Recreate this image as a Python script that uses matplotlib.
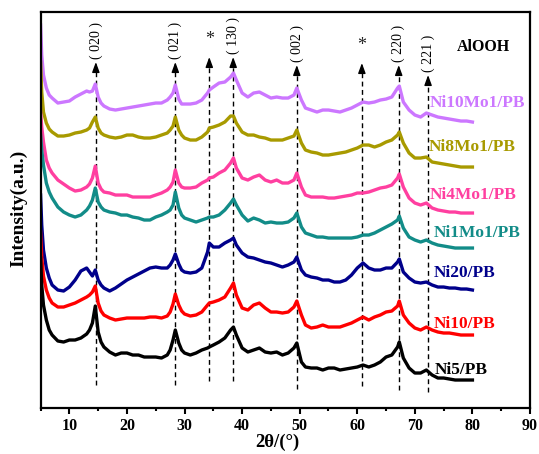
import numpy as np
import matplotlib.pyplot as plt
from matplotlib.ticker import MultipleLocator

plt.rcParams["font.family"] = ["Liberation Serif", "DejaVu Serif"]
plt.rcParams["font.weight"] = "bold"

# shared 2-theta grid (deg)
two_theta = [
    5, 5.2, 5.5, 6, 6.5, 7,
    8, 9, 10, 11, 12, 13, 13.5, 14, 14.5, 15, 15.5, 16,
    17, 18, 19, 20, 21, 22, 23, 24, 25, 26, 27, 27.5, 28, 28.4, 29, 29.5, 30,
    31, 32, 33, 34, 34.3, 35, 36, 37, 38, 38.5, 39, 40,
    41, 42, 43, 44, 45, 46, 47, 48, 49, 49.5, 50.3,
    51, 52, 53, 54, 55, 56, 57, 58, 59, 60,
    61, 62, 63, 64, 65, 66, 67, 67.3, 68, 69, 70,
    71, 72, 73, 74, 75, 76, 77, 78, 79, 80,
]

# stacked intensities (a.u.)
ni10mo1 = [
    383, 353, 333, 320, 313, 310,
    305, 306, 307, 311, 314, 317, 316, 317, 324, 311, 305, 302,
    299, 298, 299, 300, 301, 302, 303, 304, 305, 305, 308, 311, 315, 323, 309, 304, 304,
    304, 305, 308, 315, 318, 321, 325, 326, 331, 335, 328, 315,
    311, 315, 316, 313, 310, 311, 310, 310, 313, 320, 308,
    300, 298, 296, 298, 298, 297, 296, 298, 300, 303,
    306, 305, 306, 308, 309, 311, 320, 322, 306, 298, 293,
    291, 295, 293, 291, 290, 289, 288, 287, 287, 286,
]
ni8mo1 = [
    346, 316, 296, 285, 279, 276,
    272, 272, 273, 275, 276, 278, 280, 286, 291, 280, 275, 273,
    271, 270, 271, 273, 273, 271, 270, 270, 271, 273, 275, 278, 282, 291, 278, 273, 270,
    268, 268, 271, 276, 280, 281, 283, 286, 292, 292, 285, 276,
    273, 273, 271, 270, 268, 268, 268, 270, 272, 278, 265,
    258, 256, 255, 253, 253, 254, 255, 256, 258, 260,
    263, 263, 261, 263, 266, 268, 273, 276, 265, 255, 250,
    250, 251, 246, 245, 244, 243, 242, 241, 241, 241,
]
ni4mo1 = [
    296, 281, 266, 248, 240, 235,
    228, 224, 220, 217, 218, 221, 224, 230, 242, 225, 219, 216,
    215, 213, 213, 213, 211, 211, 211, 211, 213, 215, 218, 221, 226, 238, 225, 221, 220,
    220, 221, 225, 228, 230, 231, 235, 238, 245, 250, 240, 230,
    228, 231, 233, 228, 226, 228, 225, 225, 228, 235, 221,
    213, 211, 211, 211, 210, 210, 211, 212, 213, 215,
    215, 216, 218, 220, 221, 223, 230, 234, 221, 210, 205,
    203, 205, 200, 198, 197, 196, 196, 195, 195, 195,
]
ni1mo1 = [
    273, 258, 243, 225, 216, 210,
    201, 196, 193, 191, 193, 198, 202, 208, 220, 206, 201, 198,
    196, 195, 193, 193, 191, 190, 188, 188, 191, 193, 196, 198, 203, 216, 200, 193, 190,
    188, 186, 188, 190, 191, 191, 193, 198, 205, 209, 203, 193,
    187, 190, 188, 185, 186, 185, 185, 186, 190, 195, 181,
    175, 173, 171, 171, 170, 170, 170, 170, 170, 171,
    173, 173, 175, 178, 181, 184, 188, 192, 180, 171, 168,
    166, 168, 165, 163, 162, 161, 160, 160, 160, 160,
]
ni20 = [
    213, 183, 158, 140, 130, 123,
    118, 117, 121, 128, 137, 140, 136, 132, 138, 128, 123, 120,
    117, 120, 124, 128, 131, 134, 137, 140, 141, 140, 140, 143, 148, 154, 144, 138, 136,
    135, 136, 140, 156, 165, 161, 161, 165, 168, 170, 163, 155,
    151, 150, 148, 146, 145, 143, 141, 143, 146, 151, 138,
    133, 131, 130, 128, 128, 126, 126, 128, 133, 140,
    145, 140, 138, 138, 140, 140, 146, 149, 136, 130, 126,
    125, 126, 123, 121, 121, 120, 120, 119, 119, 118,
]
ni10 = [
    176, 151, 132, 118, 110, 105,
    101, 101, 103, 105, 108, 111, 113, 116, 122, 105, 97, 93,
    90, 88, 89, 90, 90, 90, 90, 91, 91, 90, 92, 96, 104, 114, 103, 97, 94,
    92, 93, 96, 103, 105, 106, 108, 111, 120, 125, 113, 100,
    98, 103, 105, 100, 96, 96, 95, 96, 101, 107, 93,
    83, 80, 81, 83, 81, 81, 81, 83, 85, 88,
    91, 88, 91, 93, 96, 97, 102, 107, 93, 85, 80,
    78, 81, 78, 76, 75, 75, 74, 73, 73, 73,
]
ni5 = [
    150, 123, 103, 88, 78, 73,
    67, 66, 68, 68, 70, 74, 78, 85, 102, 76, 66, 61,
    56, 53, 55, 55, 53, 53, 51, 51, 51, 50, 53, 58, 68, 78, 65, 58, 55,
    53, 55, 58, 60, 61, 63, 66, 70, 78, 81, 73, 60,
    56, 58, 60, 56, 55, 56, 53, 55, 60, 65, 46,
    41, 40, 40, 38, 40, 40, 38, 39, 40, 41,
    43, 41, 43, 46, 51, 53, 61, 66, 50, 40, 35,
    35, 38, 33, 30, 30, 29, 28, 28, 28, 28,
]

series_names = ["Ni10Mo1/PB", "Ni8Mo1/PB", "Ni4Mo1/PB", "Ni1Mo1/PB",
                "Ni20/PB", "Ni10/PB", "Ni5/PB"]
series_data = [ni10mo1, ni8mo1, ni4mo1, ni1mo1, ni20, ni10, ni5]
colors = ["#CC77FF", "#A89A00", "#FF3FA0", "#128C88", "#00008B", "#FF0000", "#000000"]

# AlOOH reflections and unassigned peaks
peak_pos = [14.6, 28.4, 34.3, 38.45, 49.5, 60.8, 67.2, 72.3]
peak_labels = ["( 020 )", "( 021 )", "*", "( 130 )", "( 002 )", "*", "( 220 )", "( 221 )"]

for y in series_data:
    assert len(y) == len(two_theta)

fig = plt.figure(figsize=(5.39, 4.54), dpi=100)
ax = fig.add_axes([0.0753, 0.1013, 0.9080, 0.8722])

# dashed guide lines with arrow heads
line_bottom = [23, 23, 27, 27, 19, 22, 18, 16]
arrow_tip = [346, 346, 351, 351, 343, 345, 343, 333]
for x, lab, y0, y1 in zip(peak_pos, peak_labels, line_bottom, arrow_tip):
    ax.plot([x, x], [y0, y1 - 6], color="k", lw=1.0, ls=(0, (3.5, 2.5)), zorder=1)
    ax.annotate("", xy=(x, y1), xytext=(x, y1 - 9),
                arrowprops=dict(arrowstyle="-|>,head_width=0.22,head_length=0.6",
                                color="k", lw=1.0, shrinkA=0, shrinkB=0))
    if lab == "*":
        ax.text(x, y1 + 9, "*", ha="center", va="bottom", fontsize=13,
                fontweight="normal", color="#222222")
    else:
        ax.text(x, y1 + 3, lab, rotation=90, ha="center", va="bottom", fontsize=10,
                fontweight="normal")

for name, y, c in zip(series_names, series_data, colors):
    ax.plot(two_theta, y, color=c, lw=2.4, zorder=2)

label_x = [72.6, 72.4, 72.6, 73.3, 73.3, 73.3, 73.5]
label_y = [305, 261, 213, 175, 135, 84, 38]
for name, c, lx, ly in zip(series_names, colors, label_x, label_y):
    ax.text(lx, ly, name, color=c, fontsize=12.5, fontweight="bold",
            ha="left", va="center")

ax.text(81.9, 361, "AlOOH", fontsize=11.5, fontweight="bold", ha="center", va="center")

ax.set_xlim(5, 90)
ax.set_ylim(0, 396)
ax.xaxis.set_major_locator(MultipleLocator(10))
ax.xaxis.set_minor_locator(MultipleLocator(5))
ax.tick_params(axis="x", which="major", direction="out", length=4, width=1.5,
               labelsize=11.5, pad=3, top=False)
ax.tick_params(axis="x", which="minor", direction="out", length=2, width=1.5, top=False)
ax.set_yticks([])
for lbl in ax.get_xticklabels():
    lbl.set_fontweight("bold")
for sp in ax.spines.values():
    sp.set_linewidth(1.6)

ax.set_xlabel("2θ/(°)", fontsize=13.5, fontweight="bold")
ax.xaxis.set_label_coords(0.483, -0.066)
ax.set_ylabel("Intensity(a.u.)", fontsize=14, fontweight="bold")
ax.yaxis.set_label_coords(-0.026, 0.503)

fig.savefig("out.png", dpi=100)
